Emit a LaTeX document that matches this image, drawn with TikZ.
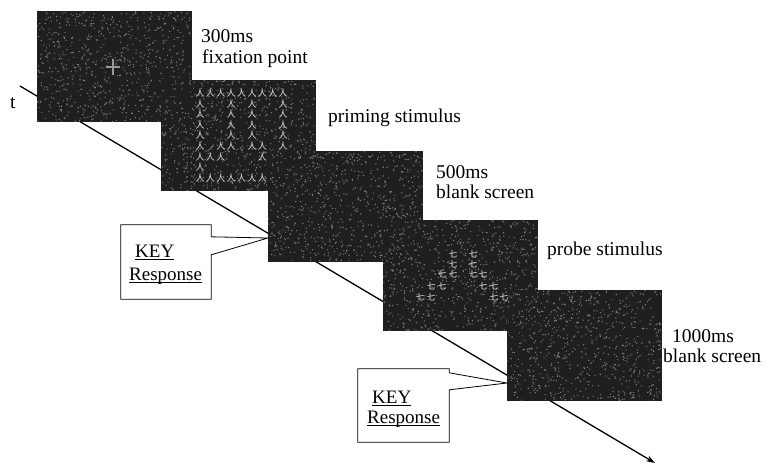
\documentclass[tikz,border=0pt]{standalone}
\usepackage{fontspec}
\setmainfont{Liberation Serif}
\newfontfamily\cjk{Noto Sans CJK SC}
\usetikzlibrary{arrows.meta}
\newlength\ulw
\newcommand\myul[1]{\settowidth\ulw{#1}\rlap{\rule[-3pt]{\ulw}{0.7pt}}#1}
\begin{document}
\begin{tikzpicture}[x=1pt,y=-1pt,
  panel/.style={draw=none, fill=black!88, minimum width=155pt, minimum height=111pt, anchor=north west, inner sep=0pt, outer sep=0pt},
  speck/.style={fill=black!52},
  lab/.style={anchor=base west, inner sep=0pt, font=\fontsize{19.5}{21}\selectfont},
  klab/.style={anchor=base west, inner sep=0pt, font=\fontsize{19}{21}\selectfont},
  prim/.style={text=black!12, font=\cjk\fontsize{9}{10}\selectfont, inner sep=0pt},
  probe/.style={text=black!8, font=\cjk\fontsize{8.5}{9}\selectfont, inner sep=0pt},
  callbox/.style={draw=none, minimum width=90pt, minimum height=74pt, inner sep=0pt},
  callline/.style={draw=black, line width=0.8pt, fill=white, line join=miter},
  timeline/.style={line width=1.3pt, -{Stealth[length=9pt,width=6pt]}}
]
\useasboundingbox (0,0) rectangle (767,475);
\fill[white] (0,0) rectangle (767,475);

% time axis
\coordinate (t0) at (20,86);
\coordinate (t1) at (655,463);
\draw[timeline] (t0) -- (t1);
\node[lab, name=tl] at (10,108) {t};

% panels
\pgfmathsetseed{7}
\foreach \n/\px/\py in {1/37/11, 2/161/80, 3/268/151, 4/383/220, 5/507/290} {
  \node[panel, name=p\n] at (\px,\py) {};
  \fill[speck] \foreach \i in {1,...,750} { ({\px+154*rnd},{\py+110*rnd}) rectangle ++(1.1,1.1) };
}

% fixation cross
\coordinate (fx) at (113,67);
\draw[black!40, line width=2.5pt] ([xshift=-7pt]fx) -- ([xshift=7pt]fx);
\draw[black!40, line width=2.5pt] ([yshift=-8pt]fx) -- ([yshift=8pt]fx);

% priming stimulus
\foreach \r/\cols in {1/{1,2,3,4,5,6,7,8,9}, 2/{1,4,6,9}, 3/{1,4,6,9}, 4/{1,4,6,9}, 5/{1,4,6,9}, 6/{1,3,4,6,7,9}, 7/{1,2,3,7}, 8/{1}, 9/{1,2,3,4,5,6,7}} {
  \foreach \c in \cols {
    \node[prim, name=m\r-\c] at ({200+10.4*(\c-1)},{93+10.6*(\r-1)}) {人};
  }
}

% probe stimulus
\foreach \x/\y [count=\i] in {453/254, 473/254, 453/264, 473/264, 442/274, 453/274, 473/274, 483/274, 431/286, 442/286, 483/286, 494/286, 420/297, 431/297, 494/297, 504/297} {
  \node[probe, name=q\i] at (\x,\y) {七};
}

% labels
\node[lab, name=l1a] at (201,42) {300ms};
\node[lab, name=l1b] at (202,63) {fixation point};
\node[lab, name=l2] at (328,122) {priming stimulus};
\node[lab, name=l3a] at (436,178) {500ms};
\node[lab, name=l3b] at (436,198) {blank screen};
\node[lab, name=l4] at (547,255) {probe stimulus};
\node[lab, name=l5a] at (672,342) {1000ms};
\node[lab, name=l5b] at (663,362) {blank screen};

% callout 1
\coordinate (r1) at (268,238);
\node[callbox, name=k1] at (166,262) {};
\draw[callline] (k1.north west) -- (k1.north east) -- ([yshift=-12pt]k1.north east) -- (r1)
  -- ([yshift=-30pt]k1.north east) -- (k1.south east) -- (k1.south west) -- cycle;
\node[klab, name=k1a] at (135,257) {\myul{KEY}};
\node[klab, name=k1b] at (129,280) {\myul{Response}};

% callout 2
\coordinate (r2) at (507,383);
\node[callbox, name=k2, minimum width=91pt, minimum height=73pt] at (403.5,405.5) {};
\draw[callline] (k2.north west) -- (k2.north east) -- ([yshift=-4pt]k2.north east) -- (r2)
  -- ([yshift=-21pt]k2.north east) -- (k2.south east) -- (k2.south west) -- cycle;
\node[klab, name=k2a] at (372,403) {\myul{KEY}};
\node[klab, name=k2b] at (367,423) {\myul{Response}};
\end{tikzpicture}
\end{document}
